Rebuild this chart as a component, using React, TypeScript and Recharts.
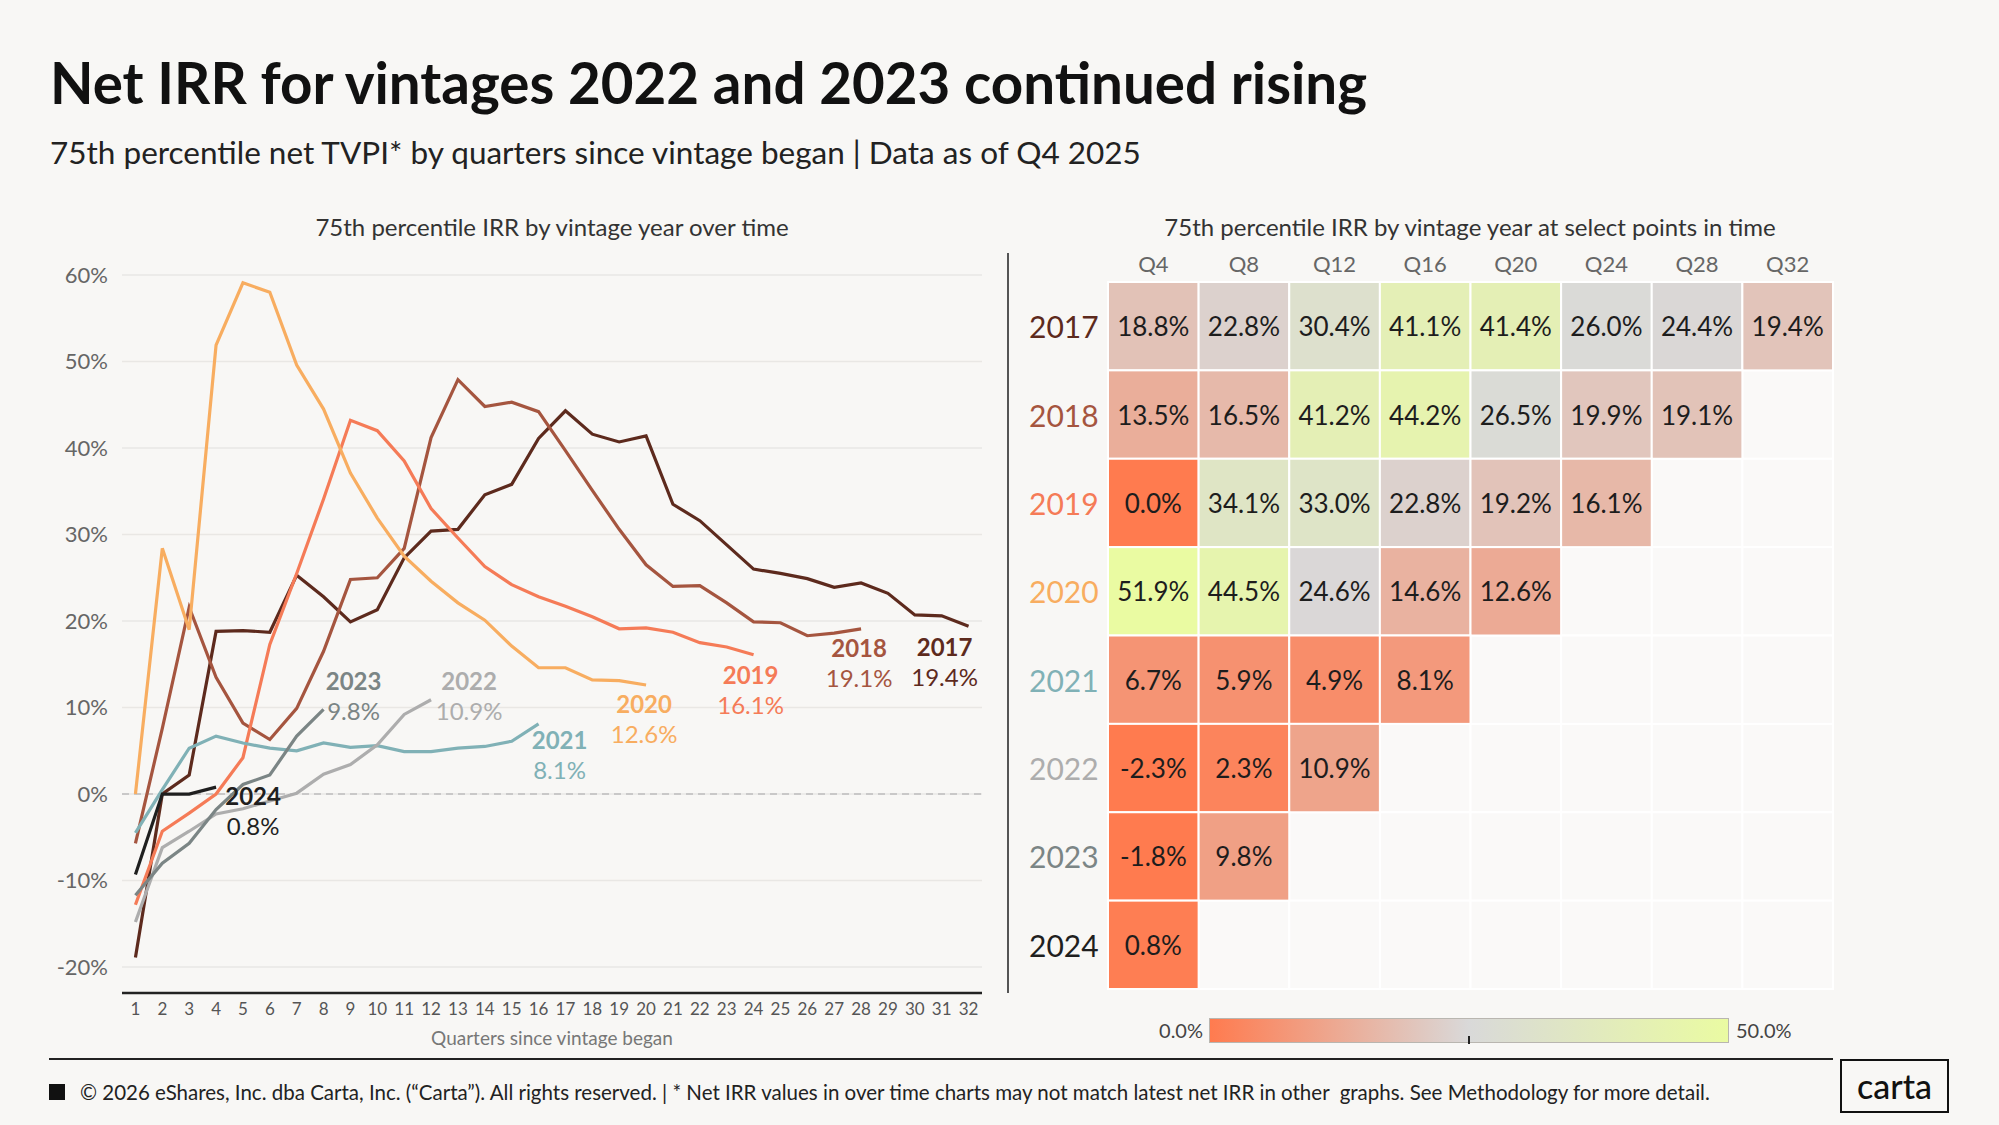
import React from 'react';
import {
  LineChart, Line, XAxis, YAxis, CartesianGrid, ReferenceLine,
  ScatterChart, Scatter
} from 'recharts';

// quarters since vintage began (x axis of the line chart)
const quarters = [
  1, 2, 3, 4, 5, 6, 7, 8, 9, 10, 11, 12, 13, 14, 15, 16,
  17, 18, 19, 20, 21, 22, 23, 24, 25, 26, 27, 28, 29, 30, 31, 32,
];
const yTicks = [-20, -10, 0, 10, 20, 30, 40, 50, 60];

const vintages = ['2017', '2018', '2019', '2020', '2021', '2022', '2023', '2024'];

// 75th percentile net IRR (%) per quarter
const irr2017 = [-18.9, 0, 2.2, 18.8, 18.9, 18.7, 25.3, 22.8, 19.9, 21.3, 27.3, 30.4, 30.6, 34.6, 35.8, 41.1,
  44.3, 41.6, 40.7, 41.4, 33.5, 31.6, 28.8, 26.0, 25.5, 24.9, 23.9, 24.4, 23.2, 20.7, 20.6, 19.4];
const irr2018 = [-5.7, 7.6, 21.6, 13.5, 8.2, 6.3, 9.9, 16.5, 24.8, 25.0, 28.4, 41.2, 47.9, 44.8, 45.3, 44.2,
  39.7, 35.1, 30.6, 26.5, 24.0, 24.1, 22.1, 19.9, 19.8, 18.3, 18.6, 19.1];
const irr2019 = [-12.8, -4.3, -2.2, 0.0, 4.2, 17.3, 25.5, 34.1, 43.2, 42.0, 38.5, 33.0, 29.6, 26.3, 24.2, 22.8,
  21.7, 20.5, 19.1, 19.2, 18.7, 17.5, 17.0, 16.1];
const irr2020 = [0, 28.4, 19.0, 51.9, 59.1, 58.0, 49.6, 44.5, 37.1, 31.9, 27.5, 24.6, 22.1, 20.1, 17.1, 14.6,
  14.6, 13.2, 13.1, 12.6];
const irr2021 = [-4.5, 0.5, 5.3, 6.7, 5.9, 5.3, 5.0, 5.9, 5.4, 5.6, 4.9, 4.9, 5.3, 5.5, 6.1, 8.1];
const irr2022 = [-14.8, -6.2, -4.3, -2.3, -1.7, -0.8, 0.1, 2.3, 3.4, 5.7, 9.2, 10.9];
const irr2023 = [-11.7, -8.0, -5.7, -1.8, 1.1, 2.2, 6.7, 9.8];
const irr2024 = [-9.3, 0, 0, 0.8];

const series: Record<string, number[]> = {
  '2017': irr2017, '2018': irr2018, '2019': irr2019, '2020': irr2020,
  '2021': irr2021, '2022': irr2022, '2023': irr2023, '2024': irr2024,
};

// select points shown in the heatmap
const heatQuarters = [4, 8, 12, 16, 20, 24, 28, 32];
const heatLabels = ['Q4', 'Q8', 'Q12', 'Q16', 'Q20', 'Q24', 'Q28', 'Q32'];

const colors: Record<string, string> = {
  '2017': '#5d2a1d',
  '2018': '#a5553f',
  '2019': '#f57b57',
  '2020': '#f8ad60',
  '2021': '#80b1b6',
  '2022': '#adadad',
  '2023': '#7b8585',
  '2024': '#1f1f1f',
};

// end label placement (centre offset from the last point, baseline offset)
const labelPos: Record<string, { dx: number; dy: number }> = {
  '2017': { dx: -24, dy: 30 },
  '2018': { dx: -2, dy: 28 },
  '2019': { dx: -3, dy: 29 },
  '2020': { dx: -2, dy: 28 },
  '2021': { dx: 21, dy: 25 },
  '2022': { dx: 38, dy: -10 },
  '2023': { dx: 30, dy: -19 },
  '2024': { dx: 37, dy: 18 },
};

const lineData = quarters.map((q, i) => {
  const row: any = { q };
  vintages.forEach((v) => { row['y' + v] = series[v][i]; });
  return row;
});

const heatCells: any[] = [];
const emptyCells: any[] = [];
vintages.forEach((v, r) => {
  heatQuarters.forEach((q, c) => {
    const val = series[v][q - 1];
    if (val === undefined) emptyCells.push({ col: c + 1, row: r + 1 });
    else heatCells.push({ col: c + 1, row: r + 1, value: val });
  });
});

const FONT = 'Lato, "Noto Sans", sans-serif';
const BG = '#f8f7f5';

const HEAT_W = 725;
const HEAT_H = 707;
const CELL_W = HEAT_W / 8;
const CELL_H = HEAT_H / 8;

const mix = (a: string, b: string, t: number) => {
  const pa = [1, 3, 5].map((k) => parseInt(a.slice(k, k + 2), 16));
  const pb = [1, 3, 5].map((k) => parseInt(b.slice(k, k + 2), 16));
  return 'rgb(' + pa.map((x, i) => Math.round(x + (pb[i] - x) * t)).join(',') + ')';
};
const heatColor = (v: number) => {
  const c = Math.max(0, Math.min(50, v));
  return c <= 25 ? mix('#ff7b4f', '#d9d9d9', c / 25) : mix('#d9d9d9', '#eafba2', (c - 25) / 25);
};

const HeatCell = (props: any) => {
  const { cx, cy, payload } = props;
  return (
    <g>
      <rect x={cx - CELL_W / 2} y={cy - CELL_H / 2} width={CELL_W} height={CELL_H}
        fill={heatColor(payload.value)} stroke="#ffffff" strokeWidth={2} />
      <text x={cx} y={cy} textAnchor="middle" dominantBaseline="central"
        fontSize={26} fill="#1d1d1d" fontFamily={FONT}>
        {payload.value.toFixed(1)}%
      </text>
    </g>
  );
};

const EmptyCell = (props: any) => {
  const { cx, cy } = props;
  return (
    <rect x={cx - CELL_W / 2} y={cy - CELL_H / 2} width={CELL_W} height={CELL_H}
      fill="#faf9f8" stroke="#ffffff" strokeWidth={2} />
  );
};

const RowTick = (props: any) => {
  const { y, payload } = props;
  const v = vintages[payload.value - 1];
  return (
    <text x={29} y={y} dominantBaseline="central" fontSize={30} fill={colors[v]} fontFamily={FONT}>
      {v}
    </text>
  );
};

const endLabel = (v: string) => (props: any) => {
  const { x, y, index } = props;
  const vals = series[v];
  if (index !== vals.length - 1) return null;
  const p = labelPos[v];
  return (
    <g fontFamily={FONT} fontSize={24} fill={colors[v]} textAnchor="middle">
      <text x={x + p.dx} y={y + p.dy} fontWeight={700}>{v}</text>
      <text x={x + p.dx} y={y + p.dy + 30}>{vals[vals.length - 1].toFixed(1)}%</text>
    </g>
  );
};

const abs = (left: number, top: number, extra: any = {}) => ({ position: 'absolute' as const, left, top, ...extra });

export default function App() {
  return (
    <div style={{ position: 'absolute', left: 0, top: 0, width: 1999, height: 1125, background: BG, overflow: 'hidden', fontFamily: FONT, color: '#111' }}>
      <div style={abs(50, 48, { fontSize: 56.5, fontWeight: 700, whiteSpace: 'nowrap' })}>
        Net IRR for vintages 2022 and 2023 continued rising
      </div>
      <div style={abs(50, 133, { fontSize: 31.5, color: '#222', whiteSpace: 'nowrap' })}>
        75th percentile net TVPI* by quarters since vintage began | Data as of Q4 2025
      </div>

      <div style={abs(122, 212, { width: 860, textAlign: 'center', fontSize: 24, color: '#333' })}>
        75th percentile IRR by vintage year over time
      </div>
      <div style={abs(1010, 212, { width: 920, textAlign: 'center', fontSize: 24, color: '#333' })}>
        75th percentile IRR by vintage year at select points in time
      </div>

      <div style={abs(0, 250)}>
        <LineChart width={1000} height={793} data={lineData} margin={{ top: 25, right: 18, bottom: 0, left: 0 }}>
          <CartesianGrid horizontal vertical={false} stroke="#e9e7e4" strokeWidth={1.5} />
          <XAxis dataKey="q" type="number" domain={[0.5, 32.5]} ticks={quarters} interval={0}
            tickLine={false} axisLine={{ stroke: '#222', strokeWidth: 2.5 }} height={50}
            tick={{ fontSize: 17, fill: '#555', fontFamily: FONT }} tickMargin={4} />
          <YAxis type="number" domain={[-23, 60]} ticks={yTicks} width={122} axisLine={false} tickLine={false}
            tickFormatter={(v) => `${v}%`} tick={{ fontSize: 22, fill: '#666', fontFamily: FONT }} tickMargin={8} />
          <ReferenceLine y={0} stroke="#bdbdbd" strokeDasharray="7 5" strokeWidth={1.5} />
          {vintages.map((v) => (
            <Line key={v} dataKey={'y' + v} type="linear" stroke={colors[v]} strokeWidth={3.2}
              dot={false} activeDot={false} isAnimationActive={false} connectNulls={false}
              label={endLabel(v)} />
          ))}
        </LineChart>
      </div>
      <div style={abs(122, 1026, { width: 860, textAlign: 'center', fontSize: 19, color: '#777' })}>
        Quarters since vintage began
      </div>

      <div style={abs(1007, 253, { width: 2, height: 740, background: '#555' })} />

      <div style={abs(1000, 240)}>
        <ScatterChart width={840} height={760} margin={{ top: 0, right: 7, bottom: 11, left: 0 }}>
          <XAxis dataKey="col" type="number" orientation="top" domain={[0.5, 8.5]} ticks={[1, 2, 3, 4, 5, 6, 7, 8]}
            interval={0} tickFormatter={(i) => heatLabels[i - 1]} axisLine={false} tickLine={false} height={42}
            tickSize={0} tickMargin={10} tick={{ fontSize: 22, fill: '#666', fontFamily: FONT }} />
          <YAxis dataKey="row" type="number" reversed domain={[0.5, 8.5]} ticks={[1, 2, 3, 4, 5, 6, 7, 8]}
            interval={0} width={108} tickLine={false} axisLine={{ stroke: '#999', strokeWidth: 1.5 }} tick={<RowTick />} />
          <Scatter data={emptyCells} shape={<EmptyCell />} isAnimationActive={false} />
          <Scatter data={heatCells} shape={<HeatCell />} isAnimationActive={false} />
        </ScatterChart>
      </div>

      <div style={abs(1100, 1018, { width: 103, textAlign: 'right', fontSize: 20, color: '#444', lineHeight: '25px' })}>0.0%</div>
      <div style={abs(1209, 1018, { width: 518, height: 23, border: '1px solid #b9b6b0', background: 'linear-gradient(to right, #ff7b4f, #d9d9d9 50%, #eafba2)' })} />
      <div style={abs(1468, 1036, { width: 2, height: 8, background: '#222' })} />
      <div style={abs(1736, 1018, { fontSize: 20, color: '#444', lineHeight: '25px' })}>50.0%</div>

      <div style={abs(49, 1058, { width: 1784, height: 2, background: '#222' })} />
      <div style={abs(49, 1084, { width: 16, height: 16, background: '#111' })} />
      <div style={abs(80, 1078, { fontSize: 20.5, color: '#222', whiteSpace: 'pre', lineHeight: '28px' })}>
        © 2026 eShares, Inc. dba Carta, Inc. (“Carta”). All rights reserved. | * Net IRR values in over time charts may not match latest net IRR in other  graphs. See Methodology for more detail.
      </div>
      <div style={abs(1840, 1059, { width: 105, height: 50, border: '2px solid #111', display: 'flex', alignItems: 'center', justifyContent: 'center', fontSize: 34, fontWeight: 500, color: '#111', lineHeight: 1 })}>
        carta
      </div>
    </div>
  );
}
